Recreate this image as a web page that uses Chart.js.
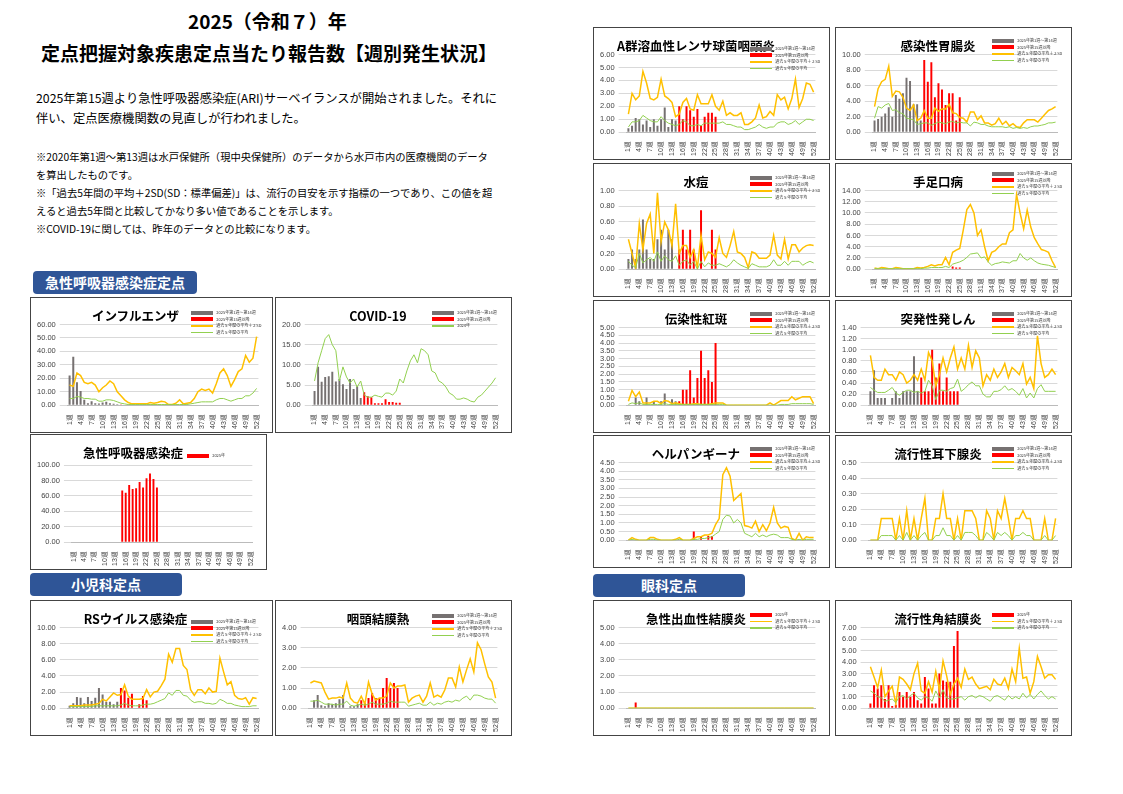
<!DOCTYPE html>
<html lang="ja">
<head>
<meta charset="utf-8">
<script src="https://cdn.jsdelivr.net/npm/chart.js@4/dist/chart.umd.min.js"></script>
<style>
  body { margin: 0; width: 1123px; height: 794px; background: #fff; position: relative; font-family: "Noto Sans CJK JP", "Noto Sans", sans-serif; color: #000; overflow: hidden; }
  .abs { position: absolute; }
  .h1 { font-weight: bold; font-size: 19px; white-space: nowrap; }
  .p { font-size: 12.3px; line-height: 20px; white-space: nowrap; }
  .note { font-size: 10.3px; line-height: 18px; white-space: nowrap; }
  .sec { background: #2f5597; color: #fff; font-size: 14px; font-weight: bold; border-radius: 4px; text-align: center; line-height: 23px; height: 23px; }
  .box { position: absolute; border: 1.5px solid #444; box-sizing: border-box; background: #fff; }
  .box .ttl { position: absolute; top: 8px; font-weight: bold; font-size: 12.5px; text-align: center; white-space: nowrap; }
  .box .lg { position: absolute; top: 17px; right: 6px; width: 31%; font-size: 4px; line-height: 6.5px; color: #333; white-space: nowrap; }
  .lg i { display: inline-block; width: 22px; vertical-align: middle; margin-right: 3px; }
  .lg .b { height: 4px; }
  .lg .l { height: 1.5px; }
  .box .cv { position: absolute; top: 18px; left: 2px; right: 6px; bottom: 2px; }
</style>
</head>
<body>
<div class="abs h1" style="left:188px;top:7px;font-size:19px;">2025（令和７）年</div>
<div class="abs h1" style="left:41px;top:39px;">定点把握対象疾患定点当たり報告数【週別発生状況】</div>
<div class="abs p" style="left:36px;top:88px;">2025年第15週より急性呼吸器感染症(ARI)サーベイランスが開始されました。それに<br>伴い、定点医療機関数の見直しが行われました。</div>
<div class="abs note" style="left:36px;top:148px;">※2020年第1週～第13週は水戸保健所（現中央保健所）のデータから水戸市内の医療機関のデータ<br>を算出したものです。<br>※「過去5年間の平均＋2SD(SD：標準偏差)」は、流行の目安を示す指標の一つであり、この値を超<br>えると過去5年間と比較してかなり多い値であることを示します。<br>※COVID-19に関しては、昨年のデータとの比較になります。</div>
<div class="abs sec" style="left:33px;top:271px;width:164px;">急性呼吸器感染症定点</div>
<div class="abs sec" style="left:30px;top:573px;width:152px;">小児科定点</div>
<div class="abs sec" style="left:593px;top:574px;width:152px;">眼科定点</div>
<div id="boxes"></div>
<script>
// 2025 weekly values (weeks 1-25), past-5-years mean+2SD, past-5-years mean
const weeks = Array.from({ length: 52 }, (_, i) => (i + 1) + "週");

const flu2025 = [22,36,17,10.5,4,1.5,3,1.5,1.2,2,2.5,1.5,1,0.8, 0.5,0.3,0.2,0.1,0.1,0.1,0.1,0.1,0.1,0.1,0.1];
const fluAlert = [15,14,24,22,17,16,17,15,10,13, 15,18,16,10,7,4,2,1,1,1, 1,1,2,1.5,2,3,2.5,0.5,0.5,1.5, 4,1,1.5,2,5,10,12,11,12,9, 16,24,27,22,14,19,25,27,37,32, 35,51];
const fluMean = [5,5,6.5,6,5,5,4.5,4.5,3,3, 4,4,3.5,2.5,1.5,1,0.5,0.5,0.5,0.5, 0.5,0.5,0.5,0.5,0.5,0.5,0.5,0.5,0.5,0.5, 0.5,0.5,0.5,1,1.5,2,2.5,2.5,2.5,2.5, 4,5,5,4,3,4,5,5,7,7, 9,12.5];

const covid2025 = [3.5,9.5,5.8,7,7.2,8.3,5.9,6.5,5.2,4,6.5,4,4.7,1.8, 3.2,2.2,2,0.5,0.5,0.5,1.5,0.8,0.8,0.6,0.6];
const covid2024 = [6,10.5,13.5,16.5,17.5,15,13.5,6,9.5,7, 5.5,6.5,4.5,6,2.5,2,2,2.5,2.2,2, 3,3,2.5,3.5,6.5,5.5,8.5,11,12.5,10.5, 14,13.5,12.5,8.5,8,6,5.5,4.5,3,2.5, 1.5,1.5,1.8,1.5,1,0.8,2,2.5,3.5,4.5, 5.5,6.8];

const ari2025 = [null,null,null,null,null,null,null,null,null,null,null,null,null,null, 67,64,74,69,70,78,71,83,89,82,71];

const rs2025 = [0.3,0.6,1.4,1.3,0.6,1.4,0.9,1.3,2.5,1.7,0.8,0.8,0.5,0.8, 2.5,2.2,1.3,1.8,0,0.5,1.5,1.0,0,0,0];
const rsAlert = [0.3,0.3,0.3,0.3,0.4,0.4,0.4,0.5,0.6,1.1, 0.9,1.4,1.9,1.6,1.7,2.9,1.5,1.1,1.1,1.1, 1.2,2.3,1.4,2,2.1,2.8,3.6,6.7,5.7,7.4, 7.4,5.3,4.8,2.3,1.6,2.3,2.3,1.8,2.5,2, 2.1,6.2,4.5,2.9,3.3,1.6,1.2,1.1,1.3,0.5, 1.3,1.2];
const rsMean = [0.2,0.2,0.2,0.2,0.2,0.2,0.2,0.3,0.3,0.3, 0.3,0.3,0.3,0.3,0.4,0.6,0.4,0.3,0.3,0.3, 0.4,0.5,0.5,0.6,0.8,1,1.2,1.9,1.6,2.2, 2.2,1.6,1.5,1,0.7,0.8,0.8,0.6,0.6,0.5, 0.6,1.1,0.9,0.6,0.6,0.4,0.3,0.2,0.2,0.2, 0.3,0.3];

const pcf2025 = [0,0.4,0.65,0.15,0.1,0.25,0.2,0.25,0.45,0.65,0,0.1,0.1,0.2, 0.4,0.25,0.5,0.75,0.5,0.5,1,1.5,1,1.25,1];
const pcfAlert = [1.25,1.35,1.3,1.25,0.8,0.45,0.5,0.5,0.55,0.5, 1.25,0.5,0.3,0.25,0.6,0.2,1.3,0.7,0.4,0.5, 0.5,0.6,1.25,1,1.1,1.1,1.15,0.3,0.5,0.6, 0.65,0.3,0.6,1.25,0.55,0.65,0.55,0.9,1.5,1.5, 1.05,2.05,1.3,1.9,2.45,1.8,3.25,2.9,2.2,1.55, 1.3,0.5];
const pcfMean = [0.35,0.35,0.4,0.3,0.2,0.2,0.2,0.15,0.2,0.2, 0.35,0.15,0.1,0.15,0.2,0.15,0.2,0.3,0.2,0.2, 0.2,0.25,0.35,0.3,0.3,0.3,0.3,0.1,0.15,0.2, 0.25,0.15,0.15,0.3,0.15,0.25,0.2,0.3,0.35,0.3, 0.4,0.35,0.5,0.6,0.4,0.65,0.65,0.6,0.5,0.45, 0.45,0.25];

const gas2025 = [0.3,0.5,1.1,1,0.6,0.9,0.4,1,0.5,1,1.9,0.4,1,0.9, 2,1,2,1.7,1.2,1.8,0.5,1.2,1.5,1.5,1.2];
const gasAlert = [1.4,3,2.5,2.8,4.7,3.8,2.6,2.5,2.7,4.1, 2.8,2.6,2.3,1.2,1.4,2.3,2.6,1.8,1.7,2.9, 2.2,2.2,2.2,2.9,2,1.7,2.4,1.3,1.5,1.3, 1.3,1.5,0.6,0.6,0.8,1.1,2.1,1.1,1.2,1.6, 1.3,2.9,2.5,2.7,1.8,2.6,4.1,1.9,2.6,3.8, 3.7,3.1];
const gasMean = [0.4,0.8,0.8,0.9,1.3,1.1,0.9,0.8,0.8,1.2, 0.9,0.7,0.6,0.5,0.6,0.9,0.8,0.5,0.5,0.6, 0.5,0.7,0.7,0.7,0.7,0.7,0.8,0.6,0.6,0.5, 0.4,0.4,0.2,0.2,0.3,0.4,0.6,0.4,0.3,0.4, 0.4,0.7,0.8,0.8,0.6,0.7,0.9,0.6,0.8,1, 1,0.9];

const gastro2025 = [1.5,1.7,2,2.4,3.2,2,4.8,4.3,5,7,6.6,3.6,3.6,1.5, 9.3,6.5,9,4.5,6.3,5.5,3.5,5,5,1.5,4.5];
const gastroAlert = [3.3,5.6,6.5,6.8,8.5,4.6,5.3,5.2,4.5,3.1, 2.8,3.5,1.5,1.8,2.8,1.8,1.8,3.1,2.7,3.0, 3.0,3.6,2.5,2.4,1.9,1.8,1.3,2.6,2.6,1.6, 2.1,1.2,1.2,0.9,1.1,1.8,1.0,1.4,0.8,1.1, 0.7,0.6,1.2,1.6,1.6,1.6,1.3,1.8,2.3,2.8, 3.0,3.3];
const gastroMean = [1.8,3.3,3.1,3.5,3.7,2.8,2.9,2.5,2.4,1.8, 1.7,1.6,1.0,1.1,1.2,1.2,0.9,1.1,1.3,1.2, 1.1,1.3,1.4,1.2,1.3,1.2,1.2,0.8,1.3,1.2, 1.0,1.0,0.8,0.7,0.7,0.7,0.7,0.6,0.7,0.5, 0.6,0.5,0.6,0.5,0.7,0.8,0.8,0.9,1.0,1.2, 1.2,1.3];

const vari2025 = [0.13,0.25,0.13,0.25,0.63,0.25,0.13,0.13,0.38,0.5,0.25,0.5,0.38,0, 0.25,0.5,0.25,0.5,0.25,0,0.75,0,0,0.5,0.25];
const variAlert = [0.38,0.2,0.02,0.58,0.25,0.58,0.7,0.2,0.97,0.35, 0.6,0.5,0.3,0.83,0.2,0.3,0.3,0.15,0.25,0.02, 0.43,0.12,0.22,0.2,0.15,0.4,0.2,0.15,0.3,0.48, 0.22,0.2,0.15,0.02,0.22,0.2,0.14,0.14,0.14,0.18, 0.43,0.18,0.13,0.38,0.13,0.31,0.31,0.22,0.27,0.3, 0.31,0.3];
const variMean = [0.1,0.05,0.02,0.2,0.08,0.12,0.15,0.1,0.22,0.1, 0.17,0.12,0.1,0.17,0.05,0.1,0.12,0.05,0.1,0, 0.1,0.03,0.08,0.05,0.05,0.07,0.05,0.03,0.06,0.12, 0.08,0.05,0.03,0.01,0.07,0.05,0.03,0.03,0.03,0.05, 0.12,0.05,0.05,0.1,0.05,0.1,0.1,0.1,0.05,0.08, 0.1,0.08];

const hfmd2025 = [0,0,0,0,0,0,0,0,0,0,0,0,0,0, 0,0,0,0,0,0,0,0,0.5,0.3,0.3];
const hfmdAlert = [0.2,0.1,0.3,0.2,0.1,0.1,0.3,0.2,0.1,0.1, 0.1,0.1,0.3,0.2,0.3,0.5,0.8,0.6,0.8,0.8, 2.1,0.8,3,3.4,3.7,7,10.6,11.5,10,6, 7,4,1.5,3,3.3,4,4.5,4.5,6.5,7, 13.3,10,7.2,10.5,7.5,5.6,4.5,3.5,3.3,3, 1.5,0.3];
const hfmdMean = [0.1,0.1,0.1,0.1,0.1,0.1,0.1,0.1,0.1,0.1, 0.1,0.1,0.1,0.1,0.2,0.2,0.3,0.3,0.3,0.3, 0.5,0.3,0.9,1.1,1.3,1.6,2.1,2.7,2.8,2.9, 2,2.2,1.3,0.7,1,1.1,1.3,1.2,1.1,1.5, 1.5,2.8,2,1.6,2,1.5,1.1,0.9,0.8,0.7, 0.5,0.3];

const ery2025 = [0,0,0.5,0.25,0,0.5,0,0.25,0,0.25,0.75,0,0.38,0.25, 0.25,1,1,2.25,0.5,1.75,3.5,1.75,2.25,1.5,4];
const eryAlert = [0.25,0.95,0.55,0.85,0.15,0.15,0.15,0.25,0.25,0.1, 0.3,0.25,0.1,0.15,0.1,0.05,0.05,0.05,0.1,0.1, 0.05,0.05,0.05,0.1,0.15,0.15,0.15,0,0,0, 0,0,0,0,0,0,0,0,0,0.15, 0,0.15,0.3,0.3,0.3,0.55,0.35,0.45,0.55,0.55, 0.55,0.1];
const eryMean = [0.05,0.15,0.1,0.15,0.05,0.05,0.05,0.05,0.05,0.05, 0.1,0.05,0.05,0.05,0.05,0.05,0.05,0.05,0.05,0.05, 0.05,0.05,0.05,0.05,0.05,0.05,0.05,0,0,0, 0,0,0,0,0,0,0,0,0,0, 0,0,0.05,0.05,0.05,0.1,0.1,0.1,0.1,0.1, 0.1,0.05];

const exa2025 = [0.25,0.63,0.13,0.13,0.13,0,0.13,0.25,0.13,0.25,0.25,0.25,0.88,0.25, 0.5,0.25,0.25,1,0.5,0.75,0.25,0.5,0.25,0.25,0.25];
const exaAlert = [0.9,0.5,0.45,0.45,0.65,0.55,0.55,0.45,0.6,0.55, 0.4,0.45,0.55,0.45,0.65,0.45,0.95,0.8,0.35,0.55, 0.85,0.6,0.85,1.05,0.65,0.85,0.65,1.08,0.68,0.98, 0.85,0.35,0.55,0.45,0.65,0.5,0.6,0.75,0.5,0.68, 0.62,0.55,0.75,0.38,0.5,0.3,1.25,0.75,0.5,0.55, 0.65,0.55];
const exaMean = [0.32,0.27,0.23,0.23,0.23,0.27,0.32,0.22,0.18,0.23, 0.27,0.27,0.23,0.25,0.22,0.25,0.45,0.35,0.1,0.27, 0.27,0.25,0.3,0.32,0.47,0.25,0.3,0.37,0.42,0.35, 0.35,0.2,0.15,0.15,0.25,0.25,0.28,0.35,0.27,0.3, 0.25,0.18,0.3,0.13,0.22,0.13,0.3,0.37,0.25,0.25, 0.25,0.25];

const her2025 = [0,0,0,0,0,0,0,0,0,0,0,0,0,0, 0,0,0,0,0.5,0,0.25,0,0.25,0.25,0];
const herAlert = [0,0.15,0.05,0,0,0,0.15,0.15,0.05,0, 0,0,0,0.05,0.15,0,0,0,0.1,0.2, 0.2,0.3,0.3,0.4,0.9,1.25,3.8,4.2,3.7,2.3, 2.5,2.7,0.85,0.8,0.7,1.1,0.5,0.9,0.55,1, 1.9,1,0.7,0.8,0.75,0.1,0,0.4,0,0.2, 0.15,0.15];
const herMean = [0,0.05,0,0,0,0,0.05,0.05,0,0, 0,0,0,0,0.05,0,0,0,0.05,0.05, 0.1,0.1,0.15,0.2,0.35,0.5,1.2,1.45,1.4,1, 1.2,1,0.4,0.3,0.2,0.4,0.2,0.3,0.2,0.3, 0.35,0.3,0.15,0.15,0.15,0.05,0,0.05,0,0.05, 0.05,0.05];

const mumps2025 = [0,0,0,0,0,0,0,0,0,0,0,0,0,0, 0,0,0,0,0,0,0,0,0,0,0];
const mumpsAlert = [0,0,0,0.14,0.14,0.14,0.14,0,0.14,0, 0.19,0,0.14,0,0.14,0.27,0,0,0.14,0.14, 0.3,0.14,0.14,0,0.14,0,0.19,0.19,0.19,0.14, 0,0,0.19,0.14,0,0.19,0.14,0.27,0.14,0, 0.14,0.14,0.19,0.14,0.14,0,0,0,0.14,0, 0,0.14];
const mumpsMean = [0,0,0,0.03,0.03,0.03,0.03,0,0.03,0, 0.05,0,0.03,0,0.03,0.05,0,0,0.03,0.03, 0.08,0.03,0.03,0,0.03,0,0.05,0.05,0.05,0.03, 0,0,0.05,0.03,0,0.05,0.03,0.05,0.03,0, 0.03,0.03,0.05,0.03,0.03,0,0,0,0.03,0, 0,0.03];

const ahc2025 = [0,0,0.35,0,0,0,0,0,0,0,0,0,0,0, 0,0,0,0,0,0,0,0,0,0,0];
const ahcAlert = [0,0,0,0,0,0,0,0,0,0, 0,0,0,0,0,0,0,0,0,0, 0,0,0,0,0,0,0,0,0,0, 0,0,0,0,0,0,0,0,0,0, 0,0,0,0,0,0,0,0,0,0, 0,0];
const ahcMean = [0,0,0,0,0,0,0,0,0,0, 0,0,0,0,0,0,0,0,0,0, 0,0,0,0,0,0,0,0,0,0, 0,0,0,0,0,0,0,0,0,0, 0,0,0,0,0,0,0,0,0,0, 0,0];

const ekc2025 = [0.4,2,1.7,2,0.8,2,0.2,0.3,1.4,1,1.4,1,1.4,0.7, 0.4,2.7,1.7,0.4,0.4,3,2.4,2.3,2.3,5.4,6.7];
const ekcAlert = [3.6,2.7,1.8,3.3,1,1.5,1.9,0.4,2.7,2.5, 2.1,1.6,3,3.9,1.5,1.3,2.3,1.4,3.2,1.6, 4.1,2.8,1.2,2.1,2.6,1.8,3.4,2.5,2.7,2.1, 1.7,1.8,1.9,1.6,2.5,2.1,2,2.6,1.7,3.4, 2.3,5.2,2.6,2.7,1.3,2.3,4.5,3.6,2.6,2.9, 2.9,2.5];
const ekcMean = [1.5,1.3,1,0.9,0.6,0.7,0.8,0.5,1,1.1, 0.8,1.1,1.3,0.9,0.7,1,0.9,0.6,1.5,0.9, 1.6,0.9,0.8,0.8,0.9,1,0.7,1,1.1,0.9, 1.1,1,0.8,0.6,1,1.1,0.9,0.7,1.1,0.8, 1,0.8,1.3,0.9,1.2,0.8,1.2,1.5,1.1,0.8, 1,0.8];

const GRAY = "#767171", RED = "#ff0000", ORANGE = "#ffc000", GREEN = "#92d050";
const L_GRAY = "2025年第1週～第14週", L_RED = "2025年第15週以降", L_ORANGE = "過去５年間の平均＋２SD", L_GREEN = "過去５年間の平均";

function box(x, y, w, h, title, legend, lgTop) {
  const d = document.createElement("div");
  d.className = "box";
  d.style.cssText = `left:${x}px;top:${y}px;width:${w}px;height:${h}px;`;
  const lg = legend.map(([c, t, bar]) => `<div><i class="${bar ? "b" : "l"}" style="background:${c}"></i>${t}</div>`).join("");
  const lgStyle = lgTop != null ? ` style="top:${lgTop}px"` : "";
  d.innerHTML = `<div class="cv"><canvas></canvas></div><div class="ttl" style="left:0;width:${w * 0.86}px;">${title}</div><div class="lg"${lgStyle}>${lg}</div>`;
  document.getElementById("boxes").appendChild(d);
  return d.querySelector("canvas");
}

function chart(pos, title, vals, alert, mean, max, step, opt = {}) {
  const split = opt.split !== false;
  const legend = [];
  const datasets = [];
  if (alert) datasets.push({ type: "line", data: alert, borderColor: ORANGE, borderWidth: 1.5, pointRadius: 0, tension: 0, order: 1 });
  if (mean) datasets.push({ type: "line", data: mean, borderColor: GREEN, borderWidth: 1, pointRadius: 0, tension: 0, order: 0 });
  if (split) {
    datasets.push({ type: "bar", data: vals.map((v, i) => (i < 14 ? v : null)), backgroundColor: GRAY, order: 2 });
    datasets.push({ type: "bar", data: vals.map((v, i) => (i >= 14 ? v : null)), backgroundColor: RED, order: 2 });
    legend.push([GRAY, L_GRAY, 1], [RED, L_RED, 1]);
  } else {
    datasets.push({ type: "bar", data: vals, backgroundColor: RED, order: 2 });
    legend.push([RED, "2025年", 1]);
  }
  if (alert) legend.push([ORANGE, L_ORANGE]);
  if (mean) legend.push([GREEN, opt.meanLabel || L_GREEN]);
  const cv = box(pos[0], pos[1], pos[2], pos[3], title, legend, opt.lgTop);
  new Chart(cv, {
    data: { labels: weeks, datasets },
    options: {
      responsive: true, maintainAspectRatio: false, animation: false,
      datasets: { bar: { grouped: false, barPercentage: 0.55, categoryPercentage: 1 } },
      layout: { padding: { top: opt.top || 6 } },
      plugins: { legend: { display: false }, tooltip: { enabled: false } },
      scales: {
        x: {
          grid: { display: false }, border: { color: "#bbb" },
          ticks: { autoSkip: false, maxRotation: 90, minRotation: 90, font: { size: 7 }, color: "#444", padding: 1,
            callback: (v, i) => (i % 3 === 0 ? weeks[i] : "") }
        },
        y: {
          min: 0, max, grid: { color: "#d9d9d9" }, border: { display: false },
          ticks: { stepSize: step, autoSkip: false, font: { size: 7.5 }, color: "#444", padding: 4, callback: (v) => v.toFixed(2) }
        }
      }
    }
  });
}

chart([30, 297, 243, 136], "インフルエンザ", flu2025, fluAlert, fluMean, 60, 10, { lgTop: 11 });
chart([275, 297, 237, 136], "COVID-19", covid2025, null, covid2024, 20, 5, { meanLabel: "2024年", lgTop: 11 });
chart([30, 434, 237, 136], "急性呼吸器感染症", ari2025, null, null, 100, 20, { split: false, top: 12, lgTop: 17 });
chart([30, 600, 243, 136], "RSウイルス感染症", rs2025, rsAlert, rsMean, 10, 2);
chart([275, 600, 237, 136], "咽頭結膜熱", pcf2025, pcfAlert, pcfMean, 4, 1, { lgTop: 11 });
chart([593, 27, 237, 133], "A群溶血性レンサ球菌咽頭炎", gas2025, gasAlert, gasMean, 6, 1);
chart([835, 27, 237, 133], "感染性胃腸炎", gastro2025, gastroAlert, gastroMean, 10, 2, { lgTop: 9 });
chart([593, 163, 237, 134], "水痘", vari2025, variAlert, variMean, 1, 0.2, { lgTop: 10 });
chart([835, 163, 237, 134], "手足口病", hfmd2025, hfmdAlert, hfmdMean, 14, 2, { lgTop: 6 });
chart([593, 300, 237, 133], "伝染性紅斑", ery2025, eryAlert, eryMean, 5, 0.5, { lgTop: 9 });
chart([835, 300, 237, 133], "突発性発しん", exa2025, exaAlert, exaMean, 1.4, 0.2, { lgTop: 9 });
chart([593, 435, 237, 133], "ヘルパンギーナ", her2025, herAlert, herMean, 4.5, 0.5, { lgTop: 9 });
chart([835, 435, 237, 133], "流行性耳下腺炎", mumps2025, mumpsAlert, mumpsMean, 0.5, 0.1, { lgTop: 9 });
chart([593, 600, 237, 136], "急性出血性結膜炎", ahc2025, ahcAlert, ahcMean, 5, 1, { split: false, lgTop: 10 });
chart([835, 600, 237, 136], "流行性角結膜炎", ekc2025, ekcAlert, ekcMean, 7, 1, { split: false, lgTop: 10 });
</script>
</body>
</html>
